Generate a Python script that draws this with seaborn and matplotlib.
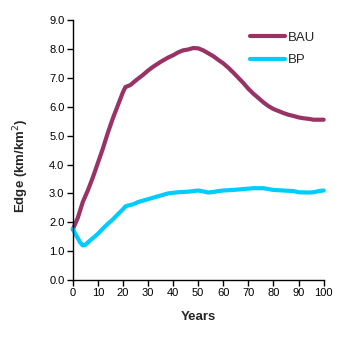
import matplotlib
matplotlib.use("Agg")
import matplotlib.pyplot as plt
import seaborn as sns
import pandas as pd
from matplotlib.ticker import FormatStrFormatter, MultipleLocator

bau_years = [0, 2, 4, 6, 8, 10, 12, 14, 16, 18, 20, 21, 23, 25, 28, 30, 32, 35, 38, 40,
             42, 44, 46, 48, 50, 52, 54, 56, 58, 60, 62, 64, 66, 68, 70, 72, 74, 76, 78, 80,
             82, 84, 86, 88, 90, 92, 94, 96, 98, 100]
bau_values = [1.75, 2.15, 2.7, 3.1, 3.55, 4.05, 4.55, 5.1, 5.6, 6.05, 6.5, 6.68, 6.75, 6.9,
              7.1, 7.25, 7.38, 7.55, 7.7, 7.78, 7.88, 7.95, 7.98, 8.03, 8.02, 7.95, 7.85,
              7.75, 7.62, 7.5, 7.35, 7.18, 7.0, 6.82, 6.62, 6.45, 6.3, 6.15, 6.02, 5.92,
              5.85, 5.78, 5.72, 5.68, 5.63, 5.6, 5.58, 5.55, 5.55, 5.55]

bp_years = [0, 1, 2, 3, 4, 5, 6, 8, 10, 12, 14, 16, 18, 20, 21, 22, 24, 26, 28, 30, 32, 34,
            36, 38, 40, 42, 44, 46, 48, 50, 52, 54, 56, 58, 60, 64, 68, 72, 76, 80, 84, 88,
            90, 94, 96, 98, 100]
bp_values = [1.78, 1.6, 1.45, 1.3, 1.2, 1.22, 1.3, 1.45, 1.6, 1.78, 1.95, 2.1, 2.28, 2.45,
             2.55, 2.58, 2.62, 2.7, 2.75, 2.8, 2.85, 2.9, 2.95, 3.0, 3.02, 3.04, 3.05, 3.06,
             3.08, 3.1, 3.07, 3.03, 3.05, 3.08, 3.1, 3.12, 3.15, 3.18, 3.18, 3.12, 3.1,
             3.08, 3.04, 3.03, 3.04, 3.08, 3.1]

df = pd.concat([
    pd.DataFrame({"Years": bau_years, "Edge": bau_values, "Scenario": "BAU"}),
    pd.DataFrame({"Years": bp_years, "Edge": bp_values, "Scenario": "BP"}),
])

sns.set_style("ticks")
plt.rcParams["font.family"] = ["Liberation Sans", "DejaVu Sans"]

fig = plt.figure(figsize=(3.48, 3.51), dpi=100)
ax = fig.add_axes([0.209, 0.202, 0.721, 0.741])

sns.lineplot(data=df, x="Years", y="Edge", hue="Scenario",
             palette={"BAU": "#993366", "BP": "#00CCFF"},
             linewidth=3.0, ax=ax, legend=True, clip_on=False)

ax.set_xlim(0, 100)
ax.set_ylim(0, 9)
ax.xaxis.set_major_locator(MultipleLocator(10))
ax.yaxis.set_major_locator(MultipleLocator(1))
ax.yaxis.set_major_formatter(FormatStrFormatter("%.1f"))
ax.tick_params(axis="both", direction="out", length=4, width=1, labelsize=8, pad=2,
               color="black", labelcolor="black")
for s in ["top", "right"]:
    ax.spines[s].set_visible(False)
for s in ["left", "bottom"]:
    ax.spines[s].set_color("black")
    ax.spines[s].set_linewidth(1)

ax.set_xlabel("Years", fontsize=9.5, fontweight="bold", labelpad=9)
ax.set_ylabel("Edge (km/km$^2$)", fontsize=9.5, fontweight="bold")
ax.yaxis.set_label_coords(-0.166, 0.44)

leg = ax.legend(loc="upper left", bbox_to_anchor=(0.685, 0.975), frameon=False,
                fontsize=9.5, handlelength=2.65, handletextpad=0.2, labelspacing=0.75,
                borderaxespad=0)
for line in leg.get_lines():
    line.set_linewidth(3.0)

fig.savefig("out.png", dpi=100)
